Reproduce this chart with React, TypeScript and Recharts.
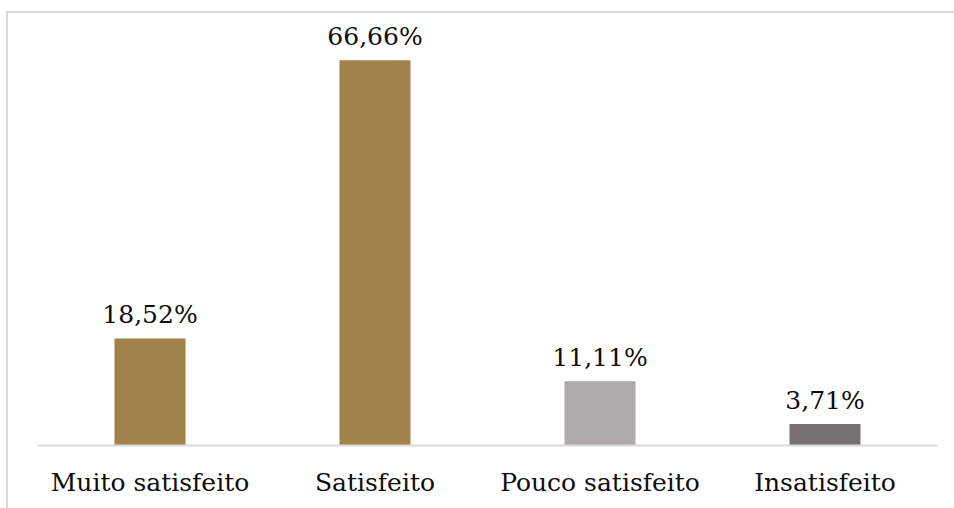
import React from "react";
import { BarChart, Bar, XAxis, YAxis, Cell, LabelList } from "recharts";

const categories = ["Muito satisfeito", "Satisfeito", "Pouco satisfeito", "Insatisfeito"];
const values = [18.52, 66.66, 11.11, 3.71];
const labels = ["18,52%", "66,66%", "11,11%", "3,71%"];
const colors = ["#A0824A", "#A0824A", "#AEAAAA", "#767171"];

const data = categories.map((c, i) => ({ name: c, value: values[i], label: labels[i] }));

const FONT = "'DejaVu Serif', serif";

export default function App() {
  return (
    <div style={{ position: "absolute", left: 0, top: 0, width: 954, height: 508, background: "#fff", overflow: "hidden" }}>
      <div
        style={{
          position: "absolute",
          left: 6,
          top: 11,
          width: 1000,
          height: 600,
          borderTop: "2px solid #d9d9d9",
          borderLeft: "2px solid #d9d9d9",
          boxSizing: "border-box",
        }}
      />
      <div style={{ position: "absolute", left: 0, top: 0 }}>
        <BarChart
          width={954}
          height={508}
          data={data}
          margin={{ top: 41, right: 16.5, bottom: 0, left: 37.5 }}
        >
          <XAxis
            dataKey="name"
            height={62.5}
            axisLine={{ stroke: "#d9d9d9", strokeWidth: 2 }}
            tickLine={false}
            tickSize={0}
            tickMargin={28}
            interval={0}
            tick={{ fill: "#0d0d0d", fontSize: 25, fontFamily: FONT }}
          />
          <YAxis hide domain={[0, 70]} />
          <Bar dataKey="value" barSize={71} isAnimationActive={false}>
            {data.map((d, i) => (
              <Cell key={i} fill={colors[i]} />
            ))}
            <LabelList
              dataKey="label"
              position="top"
              offset={15}
              style={{ fill: "#0d0d0d", fontSize: 25, fontFamily: FONT }}
            />
          </Bar>
        </BarChart>
      </div>
    </div>
  );
}
